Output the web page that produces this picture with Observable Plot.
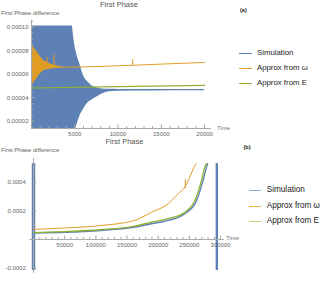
<!DOCTYPE html>
<html><head><meta charset="utf-8">
<script src="https://cdn.jsdelivr.net/npm/d3@7"></script>
<script src="https://cdn.jsdelivr.net/npm/@observablehq/plot@0.6"></script>
<style>
html,body{margin:0;padding:0;background:#fff;}
#wrap{position:relative;width:327px;height:282px;overflow:hidden;font-family:"Liberation Sans",Arial,sans-serif;}
#wrap svg{position:absolute;left:0;}
.t{position:absolute;white-space:nowrap;line-height:1;}
.sw{position:absolute;height:1px;}
</style>
</head><body><div id="wrap"></div>
<script>
// ---------- Panel (a) data ----------
const A_SIM_T  = [0, 4700, 4900, 5100, 5300, 5600, 6000, 6500, 7000, 7500, 8000, 9000, 10000, 14000, 20000];
const A_SIM_HI = [1.01e-4, 1.01e-4, 0.90e-4, 0.81e-4, 0.75e-4, 0.683e-4, 0.59e-4, 0.535e-4, 0.50e-4, 0.485e-4, 0.476e-4, 0.471e-4, 0.470e-4, 0.470e-4, 0.470e-4];
const A_SIM_LO = [0.138e-4, 0.138e-4, 0.138e-4, 0.138e-4, 0.18e-4, 0.245e-4, 0.30e-4, 0.355e-4, 0.38e-4, 0.403e-4, 0.425e-4, 0.450e-4, 0.455e-4, 0.458e-4, 0.460e-4];
const A_OSC_T  = [0, 300, 650, 1000, 1420, 1800, 2200, 2700, 3200, 3600];
const A_OSC_HI = [0.859e-4, 0.82e-4, 0.791e-4, 0.75e-4, 0.715e-4, 0.70e-4, 0.686e-4, 0.675e-4, 0.668e-4, 0.664e-4];
const A_OSC_LO = [0.502e-4, 0.53e-4, 0.565e-4, 0.60e-4, 0.63e-4, 0.638e-4, 0.643e-4, 0.648e-4, 0.652e-4, 0.655e-4];
const A_W_T = [0, 3600, 6000, 9000, 12000, 15000, 20000];
const A_W   = [0.666e-4, 0.66e-4, 0.662e-4, 0.669e-4, 0.677e-4, 0.686e-4, 0.70e-4];
const A_SPIKE_T    = [1800, 2600, 11700];
const A_SPIKE_BASE = [0.665e-4, 0.662e-4, 0.676e-4];
const A_SPIKE_TOP  = [0.743e-4, 0.763e-4, 0.725e-4];
const A_E_T = [0, 10000, 20000];
const A_E   = [0.482e-4, 0.494e-4, 0.505e-4];
const A_XTICKS = [5000, 10000, 15000, 20000];
const A_YTICKS = [0.00002, 0.00004, 0.00006, 0.00008, 0.00010];

// ---------- Panel (b) data ----------
const B_SIM_T = [0, 50000, 107500, 160500, 189300, 216100, 242700, 260000, 270500, 276000, 279200];
const B_SIM   = [0.045e-3, 0.050e-3, 0.063e-3, 0.085e-3, 0.110e-3, 0.133e-3, 0.180e-3, 0.257e-3, 0.390e-3, 0.483e-3, 0.530e-3];
const B_E_T = [0, 50000, 107500, 160500, 189300, 216100, 242700, 258800, 269500, 274800, 277600];
const B_E   = [0.048e-3, 0.055e-3, 0.068e-3, 0.091e-3, 0.121e-3, 0.145e-3, 0.191e-3, 0.273e-3, 0.413e-3, 0.506e-3, 0.530e-3];
const B_W_T = [0, 50000, 109000, 162000, 189300, 216100, 232100, 242700, 250700, 258800, 261500];
const B_W   = [0.070e-3, 0.080e-3, 0.098e-3, 0.133e-3, 0.190e-3, 0.250e-3, 0.320e-3, 0.366e-3, 0.436e-3, 0.517e-3, 0.530e-3];
const B_SPIKE_T = [243500], B_SPIKE_LO = [0.355e-3], B_SPIKE_HI = [0.417e-3];
const B_BAND_X1 = [-2000], B_BAND_X2 = [3600], B_BAND_LO = [-0.217e-3], B_BAND_HI = [0.53e-3];
const B_BAR_T = [294000], B_BAR_LO = [-0.217e-3], B_BAR_HI = [0.53e-3];
const B_XTICKS = [50000, 100000, 150000, 200000, 250000, 300000];
const B_YTICKS = [-0.0002, 0.0002, 0.0004];

const LEGEND = ["Simulation", "Approx from \u03c9", "Approx from E"];

const BLUE = "#5E81B5", ORANGE = "#E19C24", GREEN = "#8FB032";
const AXIS = "#a8a8a8", LABEL = "#666";
const FONT = "'Liberation Sans', Arial, sans-serif";

const range = (a, b, s) => d3.range(a, b + s / 2, s);
const wrap = document.getElementById("wrap");

// ---------------- Panel (a) ----------------
{
  const W = 327, H = 140, mL = 31, mR = 116, mT = 20, mB = 12;
  const xd = [0, 20800], yd = [0.0000138, 0.0001057];
  const xk = (xd[1] - xd[0]) / (W - mL - mR);
  const yk = (yd[1] - yd[0]) / (H - mT - mB);
  const sim = A_SIM_T.map((t, i) => ({t, lo: A_SIM_LO[i], hi: A_SIM_HI[i]}));
  const osc = A_OSC_T.map((t, i) => ({t, lo: A_OSC_LO[i], hi: A_OSC_HI[i]}));
  const w = A_W_T.map((t, i) => ({t, v: A_W[i]}));
  const e = A_E_T.map((t, i) => ({t, v: A_E[i]}));
  const sp = A_SPIKE_T.map((t, i) => ({t, b: A_SPIKE_BASE[i], top: A_SPIKE_TOP[i]}));
  const minorX = range(1000, 20000, 1000).filter(d => d % 5000 !== 0);
  const minorY = range(0.000015, 0.000105, 0.000005).filter(d => Math.abs(d / 0.00002 - Math.round(d / 0.00002)) > 1e-6);
  const y0 = yd[0];
  const svg = Plot.plot({
    width: W, height: H, marginLeft: mL, marginRight: mR, marginTop: mT, marginBottom: mB,
    x: {domain: xd, axis: null}, y: {domain: yd, axis: null},
    style: {fontFamily: FONT, background: "transparent", overflow: "visible"},
    marks: [
      Plot.areaY(sim, {x: "t", y1: "lo", y2: "hi", fill: BLUE, curve: "monotone-x", clip: true}),
      Plot.areaY(osc, {x: "t", y1: "lo", y2: "hi", fill: ORANGE, curve: "monotone-x"}),
      Plot.line(w, {x: "t", y: "v", stroke: ORANGE, strokeWidth: 1}),
      Plot.ruleX(sp, {x: "t", y1: "b", y2: "top", stroke: ORANGE, strokeWidth: 1}),
      Plot.line(e, {x: "t", y: "v", stroke: GREEN, strokeWidth: 1.1}),
      Plot.ruleY([y0], {stroke: AXIS}),
      Plot.ruleX([0], {stroke: AXIS}),
      Plot.ruleX(A_XTICKS, {x: d => d, y1: y0, y2: y0 + 3.5 * yk, stroke: AXIS}),
      Plot.ruleX(minorX, {x: d => d, y1: y0, y2: y0 + 2 * yk, stroke: AXIS}),
      Plot.ruleY(A_YTICKS, {y: d => d, x1: 0, x2: 3.5 * xk, stroke: AXIS}),
      Plot.ruleY(minorY, {y: d => d, x1: 0, x2: 2 * xk, stroke: AXIS}),
      Plot.text(A_XTICKS, {x: d => d, y: y0, dy: 6, text: d => String(d), fontSize: 6, fill: LABEL, lineAnchor: "middle"}),
      Plot.text(A_YTICKS, {y: d => d, x: 0, dx: -3, text: d => d.toFixed(5), fontSize: 6, fill: LABEL, textAnchor: "end"})
    ]
  });
  svg.style.top = "0px";
  wrap.appendChild(svg);
}

// ---------------- Panel (b) ----------------
{
  const W = 327, H = 142, mL = 29.26, mR = 103.2, mT = 18, mB = 9;
  const xd = [-6000, 306000], yd = [-0.000238, 0.000566];
  const xk = (xd[1] - xd[0]) / (W - mL - mR);
  const yk = (yd[1] - yd[0]) / (H - mT - mB);
  const sim = B_SIM_T.map((t, i) => ({t, v: B_SIM[i]}));
  const e = B_E_T.map((t, i) => ({t, v: B_E[i]}));
  const w = B_W_T.map((t, i) => ({t, v: B_W[i]}));
  const sp = B_SPIKE_T.map((t, i) => ({t, lo: B_SPIKE_LO[i], hi: B_SPIKE_HI[i]}));
  const band = B_BAND_X1.map((x1, i) => ({x1, x2: B_BAND_X2[i], lo: B_BAND_LO[i], hi: B_BAND_HI[i]}));
  const bar = B_BAR_T.map((t, i) => ({t, lo: B_BAR_LO[i], hi: B_BAR_HI[i]}));
  const minorX = range(10000, 300000, 10000).filter(d => d % 50000 !== 0);
  const minorY = range(-0.0002, 0.0005, 0.00005).filter(d => Math.abs(d / 0.0002 - Math.round(d / 0.0002)) > 1e-6);
  const svg = Plot.plot({
    width: W, height: H, marginLeft: mL, marginRight: mR, marginTop: mT, marginBottom: mB,
    x: {domain: xd, axis: null}, y: {domain: yd, axis: null},
    style: {fontFamily: FONT, background: "transparent", overflow: "visible"},
    marks: [
      Plot.rect(band, {x1: "x1", x2: "x2", y1: "lo", y2: "hi", fill: BLUE}),
      Plot.ruleX(bar, {x: "t", y1: "lo", y2: "hi", stroke: BLUE, strokeWidth: 2.4}),
      Plot.ruleY([0], {stroke: AXIS}),
      Plot.ruleX([0], {stroke: AXIS}),
      Plot.ruleX(B_XTICKS, {x: d => d, y1: 0, y2: 3.5 * yk, stroke: AXIS}),
      Plot.ruleX(minorX, {x: d => d, y1: 0, y2: 2 * yk, stroke: AXIS}),
      Plot.ruleY(B_YTICKS, {y: d => d, x1: 0, x2: 3.5 * xk, stroke: AXIS}),
      Plot.ruleY(minorY, {y: d => d, x1: 0, x2: 2 * xk, stroke: AXIS}),
      Plot.line(sim, {x: "t", y: "v", stroke: BLUE, strokeWidth: 1.4, curve: "monotone-x"}),
      Plot.line(e, {x: "t", y: "v", stroke: GREEN, strokeWidth: 1.3, curve: "monotone-x"}),
      Plot.line(w, {x: "t", y: "v", stroke: ORANGE, strokeWidth: 1, curve: "monotone-x"}),
      Plot.ruleX(sp, {x: "t", y1: "lo", y2: "hi", stroke: ORANGE, strokeWidth: 1}),
      Plot.text(B_XTICKS, {x: d => d, y: 0, dy: 5.5, text: d => String(d), fontSize: 6, fill: LABEL, lineAnchor: "middle"}),
      Plot.text(B_YTICKS, {y: d => d, x: xd[0], dx: -4, text: d => d.toFixed(4), fontSize: 6, fill: LABEL, textAnchor: "end"})
    ]
  });
  svg.style.top = "140px";
  wrap.appendChild(svg);
}

// ---------------- Text & legends (HTML) ----------------
function txt(s, x, y, size, opts = {}) {
  const d = document.createElement("div");
  d.className = "t";
  d.textContent = s;
  d.style.left = x + "px";
  d.style.top = y + "px";
  d.style.fontSize = size + "px";
  d.style.color = opts.color || LABEL;
  if (opts.bold) d.style.fontWeight = "bold";
  const tx = opts.anchor === "middle" ? "-50%" : opts.anchor === "end" ? "-100%" : "0";
  d.style.transform = `translate(${tx},-50%)`;
  wrap.appendChild(d);
}
function swatch(x1, x2, y, color) {
  const d = document.createElement("div");
  d.className = "sw";
  d.style.left = Math.round(x1) + "px";
  d.style.width = Math.round(x2 - x1) + "px";
  d.style.top = Math.round(y) + "px";
  d.style.background = color;
  wrap.appendChild(d);
}

// panel a
txt("First Phase", 119, 5, 7.5, {anchor: "middle", color: "#555"});
txt("First Phase difference", 1, 12.5, 6, {color: "#666"});
txt("(a)", 240, 11, 5.5, {bold: true, color: "#222"});
txt("Time", 217, 127.5, 6, {color: "#777"});
const aCols = [BLUE, ORANGE, GREEN];
[53, 68, 82.5].forEach((y, i) => {
  swatch(239, 251.7, y, aCols[i]);
  txt(LEGEND[i], 257, y + 0.3, 7.8, {color: "#222"});
});

// panel b
txt("First Phase", 124.5, 141.7, 7.5, {anchor: "middle", color: "#555"});
txt("First Phase difference", 1, 149.5, 6, {color: "#666"});
txt("(b)", 243.5, 148.3, 5.5, {bold: true, color: "#222"});
txt("Time", 226, 238, 6, {color: "#777"});
const bCols = ["#8FAAD9", "#F2AE3A", "#B8D77A"];
[190, 205.5, 221].forEach((y, i) => {
  swatch(249.3, 261.7, y, bCols[i]);
  txt(LEGEND[i], 266.7, y + 0.3, 8.2, {color: "#222"});
});
</script>
</body></html>
